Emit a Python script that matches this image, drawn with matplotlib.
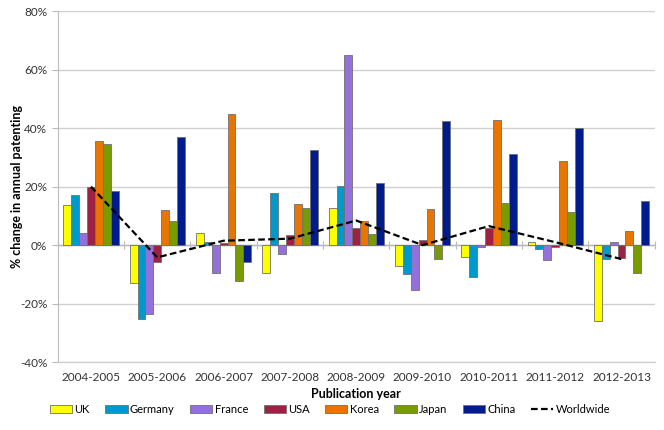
import numpy as np
import matplotlib
matplotlib.use("Agg")
import matplotlib.pyplot as plt
from matplotlib.ticker import FuncFormatter

periods = ["2004-2005", "2005-2006", "2006-2007", "2007-2008", "2008-2009",
           "2009-2010", "2010-2011", "2011-2012", "2012-2013"]
uk      = [13.8, -12.8, 4.0, -9.7, 12.8, -7.3, -3.9, 1.0, -25.9]
germany = [17.1, -25.2, 1.1, 17.7, 20.3, -9.8, -10.9, -1.3, -4.9]
france  = [4.1, -23.6, -9.6, -3.2, 65.0, -15.3, -0.5, -5.1, 0.9]
usa     = [20.0, -5.8, 0.6, 3.5, 5.8, 1.6, 5.7, -0.5, -4.4]
korea   = [35.5, 11.9, 44.7, 13.9, 8.3, 12.4, 42.8, 28.8, 4.9]
japan   = [34.6, 8.2, -12.2, 12.8, 3.7, -4.7, 14.5, 11.4, -9.6]
china   = [18.6, 36.8, -5.9, 32.5, 21.4, 42.3, 31.0, 40.0, 15.2]
worldwide = [20.0, -4.2, 1.5, 2.2, 8.4, 0.0, 6.5, 1.0, -4.8]

series = [("UK", uk, "#FFFF00"), ("Germany", germany, "#0099CC"),
          ("France", france, "#9370DB"), ("USA", usa, "#9B2242"),
          ("Korea", korea, "#E87500"), ("Japan", japan, "#779B00"),
          ("China", china, "#001C8C")]

plt.rcParams['font.family'] = ['Lato', 'DejaVu Sans']
fig = plt.figure(figsize=(6.64, 4.30), dpi=100)
ax = fig.add_axes([0.087, 0.158, 0.899, 0.816])

x = np.arange(len(periods))
bw = 0.119
n = len(series)
handles = []
for i, (name, vals, col) in enumerate(series):
    h = ax.bar(x + (i - (n - 1) / 2) * bw, vals, width=bw, color=col,
               edgecolor="#707070", linewidth=0.6, label=name, zorder=3)
    handles.append(h)
ln, = ax.plot(x, worldwide, color="black", linestyle=(0, (3, 1.5)), linewidth=1.6,
              label="Worldwide", zorder=4)
handles.append(ln)

ax.set_xlim(-0.5, len(periods) - 0.5)
ax.set_ylim(-40, 80)
ax.set_yticks(np.arange(-40, 81, 20))
ax.yaxis.set_major_formatter(FuncFormatter(lambda v, p: f"{int(v)}%"))
ax.grid(axis="y", color="#d0d0d0", linewidth=1, zorder=0)
ax.set_xticks(x)
ax.set_xticklabels(periods)
ax.tick_params(axis="x", length=0, pad=7, labelsize=8.5, colors="#333333")
ax.tick_params(axis="y", length=4, color="#bbbbbb", labelsize=8.5, colors="#333333")
for s in ["top", "right"]:
    ax.spines[s].set_visible(False)
ax.spines["left"].set_color("#bbbbbb")
ax.spines["bottom"].set_color("#d0d0d0")
ax.spines["bottom"].set_linewidth(1)

# zero axis with category boundary ticks
sec = ax.secondary_xaxis(1/3)
sec.set_xticks(np.arange(-0.5, len(periods), 1.0))
sec.set_xticklabels([])
sec.tick_params(axis="x", length=6, direction="inout", color="#bbbbbb")
sec.spines["bottom"].set_color("#bbbbbb")
sec.spines["top"].set_color("#bbbbbb")
ax.axhline(0, color="#bbbbbb", linewidth=1, zorder=2)

ax.set_xlabel("Publication year", fontsize=9, fontweight="bold", labelpad=4)
ax.set_ylabel("% change in annual patenting", fontsize=9, fontweight="bold", labelpad=-2)

labels = [h.get_label() for h in handles]
fig.legend(handles, labels, loc="center", bbox_to_anchor=(0.497, 0.048), ncol=8,
           frameon=False, fontsize=8, handlelength=2.0, handleheight=0.7,
           columnspacing=1.4, handletextpad=0.2)

fig.savefig("out.png", dpi=100)
